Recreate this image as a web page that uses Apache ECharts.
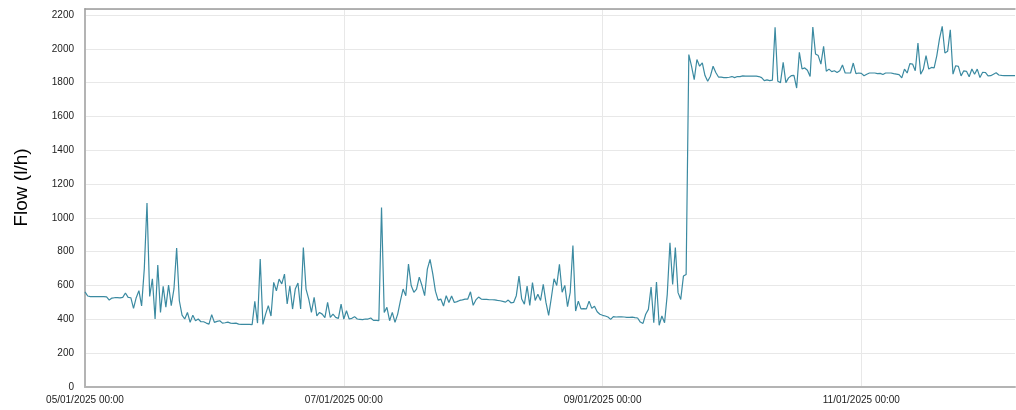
<!DOCTYPE html>
<html><head><meta charset="utf-8">
<script src="https://cdn.jsdelivr.net/npm/echarts@6/dist/echarts.min.js"></script>
<style>html,body{margin:0;padding:0;background:#fff}#c{width:1016px;height:410px}</style>
</head><body><div id="c"></div>
<script>
// Start of the record and sampling step
const startDate = [2025, 1, 5]; // year, month, day (labels are DD/MM/YYYY)
const stepMinutes = 30;

// Flow readings (l/h), one array per day, 30-minute samples
const flowDay05 = [563,538,535,535,534,535,534,534,533,514,526,528,528,527,530,556,530,528,465,528,570,480,700,1088,536,640,402,721,441,595,472,603,481,580,822,510,425,402,441,382,425,392,402,386,386,378,372,428];
const flowDay06 = [382,388,392,378,380,384,378,376,378,372,370,370,370,370,369,506,378,757,370,431,481,420,619,569,638,610,668,491,599,461,579,615,461,825,579,520,441,530,421,441,431,410,500,412,431,412,406,490];
const flowDay07 = [402,451,402,406,416,402,400,398,402,402,408,394,394,392,1062,441,471,392,441,382,431,510,579,540,727,600,560,579,650,600,540,697,755,670,567,514,520,479,540,500,538,500,505,512,515,520,520,563];
const flowDay08 = [483,515,532,520,518,518,516,516,515,512,510,506,502,514,498,500,540,656,520,490,597,483,617,512,548,512,607,500,424,528,640,600,725,560,601,475,560,837,449,508,462,463,462,508,465,478,445,430];
const flowDay09 = [424,420,414,400,416,414,415,415,414,412,412,413,410,408,384,376,430,459,591,380,621,365,420,380,548,853,607,825,558,518,656,666,1966,1897,1818,1937,1897,1917,1842,1808,1838,1897,1860,1833,1833,1830,1830,1832];
const flowDay10 = [1836,1830,1836,1836,1840,1838,1838,1838,1838,1838,1836,1830,1812,1816,1812,1815,2127,1808,1800,1920,1800,1828,1841,1843,1768,1979,1881,1887,1873,1837,2129,1970,1960,1910,2015,1867,1880,1865,1870,1860,1870,1904,1857,1857,1857,1916,1853,1857];
const flowDay11 = [1855,1841,1850,1857,1857,1857,1853,1855,1848,1857,1857,1857,1853,1850,1847,1828,1880,1857,1912,1910,1870,2034,1850,1880,1960,1880,1890,1887,1960,2060,2133,1975,1985,2113,1850,1900,1896,1840,1870,1867,1835,1881,1850,1880,1830,1861,1860,1840];
const flowDay12 = [1841,1850,1858,1845,1843,1842,1842,1841,1841,1841];

// Axis ticks
const yTickStep = 200;   // l/h
const xTickStepHours = 48;

const flow = [].concat(flowDay05, flowDay06, flowDay07, flowDay08, flowDay09, flowDay10, flowDay11, flowDay12);
const data = flow.map((v, i) => [i * stepMinutes / 60, v]);
const lastHour = (flow.length - 1) * stepMinutes / 60;

function pad(n){ return String(n).padStart(2, '0'); }
function fmtTime(h){
  const d = new Date(Date.UTC(startDate[0], startDate[1]-1, startDate[2]) + h * 3600000);
  return pad(d.getUTCDate()) + '/' + pad(d.getUTCMonth()+1) + '/' + d.getUTCFullYear() + ' ' + pad(d.getUTCHours()) + ':' + pad(d.getUTCMinutes());
}

const chart = echarts.init(document.getElementById('c'), null, {renderer: 'canvas'});
const font = 'Liberation Sans, Arial, sans-serif';
chart.setOption({
  animation: false,
  backgroundColor: '#fff',
  grid: {left: 85, right: 1, top: 9, bottom: 23, containLabel: false},
  xAxis: [{
    type: 'value', min: 0, max: lastHour, interval: xTickStepHours,
    axisLine: {show: true, lineStyle: {color: '#b4b4b4', width: 2}},
    axisTick: {show: false},
    axisLabel: {formatter: fmtTime, color: '#222', fontSize: 10, fontFamily: font, margin: 8, showMaxLabel: false, showMinLabel: true},
    splitLine: {show: true, showMaxLine: false, lineStyle: {color: '#e8e8e8', width: 1}}
  }, {
    type: 'value', position: 'top', min: 0, max: lastHour,
    axisLine: {show: true, onZero: false, lineStyle: {color: '#9a9a9a', width: 1.5}},
    axisTick: {show: false}, axisLabel: {show: false}, splitLine: {show: false}
  }],
  yAxis: {
    type: 'value', min: 0, max: 2235.5, interval: yTickStep,
    name: 'Flow (l/h)', nameLocation: 'middle', nameGap: 54,
    nameTextStyle: {fontSize: 19, color: '#000', fontFamily: font, padding: [0, 0, 0, 21]},
    axisLine: {show: true, lineStyle: {color: '#b4b4b4', width: 2}},
    axisTick: {show: false},
    axisLabel: {color: '#222', fontSize: 10, fontFamily: font, margin: 11, showMaxLabel: false, formatter: v => String(v)},
    splitLine: {show: true, lineStyle: {color: '#e8e8e8', width: 1}}
  },
  series: [{
    type: 'line', data: data, xAxisIndex: 0, showSymbol: false, symbol: 'none',
    lineStyle: {color: '#3b8aa1', width: 1.2}, sampling: 'none'
  }]
});
</script>
</body></html>
